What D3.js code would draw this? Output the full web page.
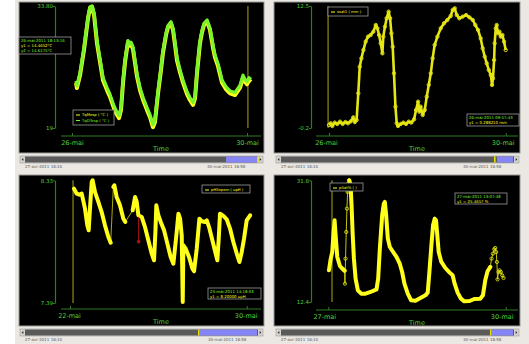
<!DOCTYPE html>
<html><head><meta charset="utf-8">
<script src="https://cdn.jsdelivr.net/npm/d3@7"></script>
<style>
html,body{margin:0;padding:0;background:#fff;}
svg{display:block;font-family:"DejaVu Sans",sans-serif;}
</style></head><body>
<svg id="c" width="529" height="344"></svg>
<script>
// ---------- DATA (hours after the first tick date) ----------
// Panel 1 : 26-mai .. 30-mai
const p1Ticks = ["2011-05-26", "2011-05-30"];
const p1YTicks = [19, 33.8];
const p1YLabels = ["19", "33.80"];
const p1Hours = [2.2,2.7,4.4,6.6,8.8,9.9,11.0,12.1,13.7,15.4,17.0,19.2,20.8,23.0,24.7,25.8,26.9,28.0,29.1,30.2,30.7,31.8,32.4,33.5,35.7,37.3,39.0,41.1,42.8,44.4,45.5,47.2,48.8,49.9,51.6,52.7,54.3,55.4,56.5,57.6,59.2,60.9,63.1,64.7,66.4,67.5,68.6,70.2,71.3,72.4,74.1,75.7,77.4,78.4,80.1,82.3,84.5,86.7,89.4,92.2,93.8,94.9,96.0,97.1,98.2];
const p1TqMesp = [24.46,23.85,25.4,28.5,32.3,33.56,33.7,32.7,29.3,27.0,24.8,23.6,22.8,21.4,20.6,20.2,21.2,24.5,27.0,28.7,29.4,29.0,29.2,28.5,25.2,23.6,22.4,21.2,20.3,19.1,19.7,23.2,26.0,28.1,30.3,31.25,31.7,30.9,29.1,27.2,25.8,24.5,23.1,22.4,21.8,22.6,25.7,29.3,30.6,31.5,31.9,30.9,28.7,27.6,26.5,24.5,23.7,23.2,23.0,23.9,25.1,24.6,24.3,24.8,24.6];
const p1TqDTesp = [24.7,24.1,25.7,28.8,32.5,33.7,33.8,32.9,29.6,27.3,25.1,23.9,23.1,21.7,20.9,20.5,21.5,24.8,27.3,28.9,29.6,29.2,29.4,28.8,25.5,23.9,22.7,21.5,20.6,19.4,20.0,23.5,26.3,28.4,30.5,31.45,31.9,31.1,29.4,27.5,26.1,24.8,23.4,22.7,22.1,22.9,26.0,29.5,30.8,31.7,32.1,31.1,29.0,27.9,26.8,24.8,24.0,23.5,23.3,24.2,25.4,24.9,24.6,25.1,24.9];
const p1Cursor = 96.5;
const p1Legend = ["TqMesp ( °C )", "TqDTesp ( °C )"];
const p1Info = ["26-mai-2011 18:13:16", "y1 = 14.4652°C", "y2 = 14.6175°C"];

// Panel 2 : 26-mai .. 30-mai
const p2Ticks = ["2011-05-26", "2011-05-30"];
const p2YTicks = [-0.2, 12.5];
const p2YLabels = ["-0.2", "12.5"];
const p2Hours = [0,0.9,1.8,3.1,4.5,6.0,7.4,8.9,10.3,11.8,13.2,14.0,15.0,15.9,16.7,17.6,18.7,19.9,21.2,22.6,24.1,25.4,26.3,27.2,28.1,29.0,29.5,30.4,31.3,32.4,33.2,33.9,34.6,35.3,36.1,36.8,37.5,39.0,40.4,41.8,43.3,44.7,46.2,47.3,48.4,49.1,49.8,50.9,52.0,53.1,54.2,55.3,56.3,57.4,58.9,60.7,62.5,64.3,66.1,67.2,68.3,69.4,70.8,72.6,74.5,76.3,78.1,79.5,81.0,82.4,83.5,84.6,85.7,86.8,87.9,88.6,89.1,89.7,90.0,90.6,91.1,91.8,92.6,93.3,94.2,95.1,96.0];
const p2Ssat = [0.11,0.29,0.01,0.36,0.22,0.46,0.22,0.42,0.29,0.49,0.91,0.42,0.63,3.41,6.18,7.05,7.92,8.79,9.31,9.48,9.83,10.52,10.18,9.48,8.61,7.57,9.31,10.35,11.22,11.91,11.22,9.65,8.27,5.49,2.02,0.29,0.01,0.22,0.36,0.22,0.46,0.36,0.7,1.67,2.54,1.5,2.02,1.15,1.67,3.06,4.28,5.49,7.05,8.44,9.31,10.18,10.7,11.04,11.46,12.08,12.26,11.56,11.22,11.39,11.56,11.32,11.04,10.52,10.0,9.13,8.09,7.23,6.53,5.84,5.32,4.28,4.97,6.88,8.61,10.18,10.52,9.65,9.83,9.31,9.48,8.79,7.92];
const p2Cursor = -0.5;
const p2Legend = ["ssat1 ( mm )"];
const p2Info = ["26-mai-2011 09:57:43", "y1 = 0.288210 mm"];

// Panel 3 : 22-mai .. 30-mai  (null = gap in the recording)
const p3Ticks = ["2011-05-22", "2011-05-30"];
const p3YTicks = [7.39, 8.33];
const p3YLabels = ["7.39", "8.33"];
const p3Hours = [4.3,7.2,10.1,12.7,16.3,18.8,20.3,21.7,23.6,24.6,27.2,30.8,34.4,38.0,41.7,44.2,45.6,47.1,48.2,50.7,54.3,58.0,60.1,64.0,68.1,70.7,72.5,74.3,77.9,81.5,85.1,88.8,91.3,92.8,93.8,96.0,98.6,102.2,105.8,109.4,112.3,115.2,117.8,119.6,121.4,122.5,123.2,125.7,129.3,133.0,134.8,137.7,140.6,143.1,146.7,148.6,151.1,154.7,158.3,160.1,161.6,163.0,166.7,170.3,173.9,177.5,181.2,184.1,186.6,189.1,192.0,195.7];
const p3PH = [8.266,8.228,8.22,8.228,8.113,7.985,7.947,8.113,8.317,8.33,8.24,8.164,8.087,7.985,7.896,7.852,null,8.279,8.292,8.202,8.138,8.036,8.011,null,8.10,8.202,8.164,8.062,8.049,7.972,7.87,7.768,7.717,7.934,8.138,8.062,8.011,7.947,7.845,7.742,7.691,7.883,8.074,8.036,7.908,7.398,7.832,7.806,7.742,7.653,7.633,7.806,8.036,8.016,8.011,8.023,7.972,7.87,7.768,7.717,7.883,8.074,8.057,8.031,7.96,7.857,7.768,7.704,7.781,7.883,8.023,8.062];
const p3MarkHours = [74.6, 74.6];
const p3MarkValues = [8.05, 7.86];
const p3Cursor = 3.3;
const p3Legend = ["pHSepsm ( upH )"];
const p3Info = ["23-mai-2011 14:18:03", "y1 = 8.20000 upH"];

// Panel 4 : 27-mai .. 30-mai
const p4Ticks = ["2011-05-27", "2011-05-30"];
const p4YTicks = [12.4, 31.8];
const p4YLabels = ["12.4", "31.8"];
const p4DenseHours = [0.27,0.94,1.6,2.16,2.56,2.97,3.64,4.72,5.67,6.61,7.5,8.5,9.04,9.45,9.85,10.39,11.07,12.01,13.36,15.11,17.14,19.57,20.24,20.92,21.86,22.54,22.94,23.48,24.16,24.97,26.32,27.67,29.01,29.96,30.9,32.25,33.6,35.36,37.38,39.4,40.35,41.03,41.84,42.51,43.18,43.72,44.13,44.8,45.88,47.5,49.26,50.47,51.28,52.5,53.85,55.2,57.36,59.24,61.67,62.75,63.7,64.64,65.72];
const p4DenseValues = [17.45,19.2,20.37,23.56,25.42,23.03,19.58,18.14,17.72,17.4,null,31.8,31.0,27.81,23.56,19.31,16.12,14.26,13.73,13.73,14.0,14.42,16.12,20.9,26.22,28.08,28.35,26.22,22.5,21.17,20.37,19.58,18.51,17.18,15.32,13.73,12.67,12.61,13.04,13.46,13.89,17.18,21.44,24.62,25.69,25.42,23.56,20.37,18.78,17.82,17.08,16.65,15.32,13.89,12.93,12.51,12.56,12.88,12.93,13.46,15.85,17.29,17.98];
const p4SparseHours = [6.61,6.75,7.0,7.29,7.56,7.83,8.1,8.5,30,65.72,66.26,66.8,67.34,67.75,68.15,68.42,68.69,69.1,69.5,70.04,70.58,71.12];
const p4SparseValues = [17.4,15.32,19.31,23.56,27.28,29.94,31.27,31.8,null,17.98,19.31,20.11,20.8,21.01,20.37,18.78,16.01,17.18,17.45,17.18,16.65,16.23];
const p4Cursor = 1.5;
const p4Legend = ["pSat% ( )"];
const p4Info = ["27-mai-2011 13:07:48", "y1 = 25.4657 %"];

const scrollLeftLabel = "27-avr-2011 18:10";
const scrollRightLabel = "30-mai-2011 18:58";

// ---------- DRAWING ----------
const fr = d3.timeFormatLocale({
  dateTime: "%A %e %B %Y à %X", date: "%d/%m/%Y", time: "%H:%M:%S", periods: ["AM","PM"],
  days: ["dimanche","lundi","mardi","mercredi","jeudi","vendredi","samedi"],
  shortDays: ["dim.","lun.","mar.","mer.","jeu.","ven.","sam."],
  months: ["janvier","février","mars","avril","mai","juin","juillet","août","septembre","octobre","novembre","décembre"],
  shortMonths: ["janv","févr","mars","avr","mai","juin","juil","août","sept","oct","nov","déc"]
});
const fmtTick = fr.format("%d-%b");
const parse = d3.timeParse("%Y-%m-%d");
const hoursToDate = (base, h) => new Date(+base + h * 3600e3);

const AX = "#2e7d24", TXT = "#4fd23a", GREEN = "#7cf42a", YEL = "#ffff1a", OLIVE = "#8c8c10";

const svg = d3.select("#c");
svg.append("rect").attr("x", 15).attr("y", 0).attr("width", 514).attr("height", 344).attr("fill", "#ebe8e3");

function drawPanel(c) {
  const g = svg.append("g");
  g.append("rect").attr("x", c.plot[0]).attr("y", c.plot[1]).attr("width", c.plot[2]).attr("height", c.plot[3])
    .attr("fill", "#000").attr("stroke", "#9a9a9a").attr("stroke-width", 1);
  const base = parse(c.ticks[0]);
  const end = parse(c.ticks[1]);
  const x = d3.scaleTime().domain([base, end]).range(c.xr);
  const y = d3.scaleLinear().domain(c.yTicks).range(c.yr);

  // cursor
  const cx = x(hoursToDate(base, c.cursor));
  g.append("line").attr("x1", cx).attr("x2", cx).attr("y1", c.yr[1]).attr("y2", c.yr[0])
    .attr("stroke", OLIVE).attr("stroke-width", 1.2);

  // x axis
  g.append("line").attr("x1", c.xLine[0]).attr("x2", c.xLine[1]).attr("y1", c.xAxisY).attr("y2", c.xAxisY)
    .attr("stroke", AX).attr("stroke-width", 1.2);
  const xa = d3.axisBottom(x).tickValues([base, end]).tickFormat(fmtTick).tickSizeInner(-3).tickSizeOuter(0).tickPadding(4);
  const gx = g.append("g").attr("transform", `translate(0,${c.xAxisY})`).call(xa);
  gx.select(".domain").remove();
  gx.selectAll(".tick line").attr("stroke", AX);
  gx.selectAll(".tick text").attr("fill", TXT).attr("font-size", 6.5).attr("dx", c.dx).attr("font-family", "DejaVu Sans");
  g.append("text").attr("x", (c.xLine[0] + c.xLine[1]) / 2).attr("y", c.xAxisY + 15).attr("text-anchor", "middle")
    .attr("fill", TXT).attr("font-size", 6.5).text("Time");

  // y axis
  const ya = d3.axisLeft(y).tickValues(c.yTicks).tickFormat((d, i) => c.yLabels[i]).tickSizeInner(2).tickSizeOuter(0).tickPadding(0);
  const gy = g.append("g").attr("transform", `translate(${c.yAxisX},0)`).call(ya);
  gy.select(".domain").attr("stroke", AX).attr("stroke-width", 1.2);
  gy.selectAll(".tick line").attr("stroke", AX);
  gy.selectAll(".tick text").attr("fill", TXT).attr("font-size", 5.5).attr("font-family", "DejaVu Sans");

  c.draw(g, x, y, base);

  // legend box
  const lg = g.append("g");
  lg.append("rect").attr("x", c.legend[0]).attr("y", c.legend[1]).attr("width", c.legend[2]).attr("height", c.legend[3])
    .attr("fill", "#000").attr("stroke", "#9a9a9a").attr("stroke-width", 0.8);
  c.legendText.forEach((t, i) => {
    const ly = c.legend[1] + 5 + i * 5.5;
    lg.append("line").attr("x1", c.legend[0] + 3).attr("x2", c.legend[0] + 7).attr("y1", ly).attr("y2", ly)
      .attr("stroke", c.legendColors[i]).attr("stroke-width", 1);
    lg.append("text").attr("x", c.legend[0] + 9).attr("y", ly + 1.2).attr("fill", c.legendColors[i])
      .attr("font-size", 3.8).text(t);
  });

  // info box
  const ib = g.append("g");
  ib.append("rect").attr("x", c.info[0]).attr("y", c.info[1]).attr("width", c.info[2]).attr("height", c.info[3])
    .attr("fill", "#000").attr("stroke", "#9a9a9a").attr("stroke-width", 0.8);
  c.infoText.forEach((t, i) => {
    ib.append("text").attr("x", c.info[0] + 2).attr("y", c.info[1] + 5 + i * 5).attr("fill", c.infoColors[i])
      .attr("font-size", 3.9).text(t);
  });

  // scrollbar
  const s = c.scroll, sy = s.y, sh = 7;
  g.append("rect").attr("x", s.x0).attr("y", sy).attr("width", s.x1 - s.x0).attr("height", sh).attr("fill", "#d6d3ce").attr("stroke", "#9a9a9a").attr("stroke-width", 0.6);
  g.append("rect").attr("x", s.x0 + 5).attr("y", sy + 0.5).attr("width", s.x1 - s.x0 - 10).attr("height", sh - 1).attr("fill", "#5a5a5a");
  g.append("rect").attr("x", s.blue[0]).attr("y", sy + 0.5).attr("width", s.blue[1] - s.blue[0]).attr("height", sh - 1).attr("fill", "#8585f5");
  g.append("rect").attr("x", s.mark).attr("y", sy + 0.5).attr("width", 1.6).attr("height", sh - 1).attr("fill", "#e8e000");
  g.append("path").attr("d", `M${s.x0 + 3.3},${sy + 2} L${s.x0 + 1.7},${sy + 3.5} L${s.x0 + 3.3},${sy + 5} Z`).attr("fill", "#222");
  g.append("path").attr("d", `M${s.x1 - 3.3},${sy + 2} L${s.x1 - 1.7},${sy + 3.5} L${s.x1 - 3.3},${sy + 5} Z`).attr("fill", "#222");
  g.append("text").attr("x", s.x0 + 5).attr("y", sy + 12).attr("fill", "#555").attr("font-size", 4).text(scrollLeftLabel);
  g.append("text").attr("x", s.rightLabel).attr("y", sy + 12).attr("fill", "#555").attr("font-size", 4).text(scrollRightLabel);
}

const toPts = (base, hs, vs) => hs.map((h, i) => ({ t: hoursToDate(base, h), v: vs[i] }));

// Panel 1
drawPanel({
  plot: [19, 2, 245, 151], ticks: p1Ticks, xr: [72, 247], yTicks: p1YTicks, yLabels: p1YLabels, yr: [128, 6],
  yAxisX: 55, xAxisY: 136, xLine: [61, 261], dx: 0, cursor: p1Cursor,
  legend: [73, 110, 41, 15], legendText: p1Legend, legendColors: [YEL, GREEN],
  info: [19, 37, 52, 17], infoText: p1Info, infoColors: [GREEN, YEL, GREEN],
  scroll: { x0: 20, x1: 263, y: 156, blue: [226, 257], mark: 257, rightLabel: 207 },
  draw: (g, x, y, base) => {
    const line = d3.line().x(d => x(d.t)).y(d => y(d.v)).curve(d3.curveLinear);
    g.append("path").datum(toPts(base, p1Hours, p1TqMesp)).attr("d", line).attr("fill", "none")
      .attr("stroke", YEL).attr("stroke-width", 4).attr("stroke-linejoin", "round");
    g.append("path").datum(toPts(base, p1Hours, p1TqDTesp)).attr("d", line).attr("fill", "none")
      .attr("stroke", GREEN).attr("stroke-width", 3.2).attr("stroke-linejoin", "round");
  }
});

// Panel 2
drawPanel({
  plot: [274, 2, 246, 151], ticks: p2Ticks, xr: [329, 505.7], yTicks: p2YTicks, yLabels: p2YLabels, yr: [128, 6],
  yAxisX: 311, xAxisY: 136, xLine: [316, 518], dx: -3, cursor: p2Cursor,
  legend: [328, 7, 40, 9], legendText: p2Legend, legendColors: [YEL],
  info: [467, 114, 52, 12], infoText: p2Info, infoColors: [GREEN, YEL],
  scroll: { x0: 276, x1: 519, y: 156, blue: [497, 513], mark: 494, rightLabel: 463 },
  draw: (g, x, y, base) => {
    const pts = toPts(base, p2Hours, p2Ssat);
    const line = d3.line().x(d => x(d.t)).y(d => y(d.v));
    g.append("path").datum(pts).attr("d", line).attr("fill", "none")
      .attr("stroke", "#e6e614").attr("stroke-width", 2.6).attr("stroke-linejoin", "round");
    g.selectAll(".m2").data(pts).enter().append("circle").attr("cx", d => x(d.t)).attr("cy", d => y(d.v))
      .attr("r", 1.7).attr("fill", "none").attr("stroke", "#e6e614").attr("stroke-width", 0.9);
  }
});

// Panel 3
drawPanel({
  plot: [19, 175, 245, 151], ticks: p3Ticks, xr: [70, 246.7], yTicks: p3YTicks, yLabels: p3YLabels, yr: [303, 180.3],
  yAxisX: 55, xAxisY: 309, xLine: [61, 261], dx: -1, cursor: p3Cursor,
  legend: [202, 185, 48, 8], legendText: p3Legend, legendColors: [YEL],
  info: [208, 288, 53, 11], infoText: p3Info, infoColors: [GREEN, YEL],
  scroll: { x0: 20, x1: 263, y: 329, blue: [200, 257], mark: 198, rightLabel: 208 },
  draw: (g, x, y, base) => {
    const pts = toPts(base, p3Hours, p3PH);
    const thin = d3.line().x(d => x(d.t)).y(d => y(d.v));
    g.append("path").datum(pts.filter(d => d.v != null)).attr("d", thin).attr("fill", "none")
      .attr("stroke", "#d4d40c").attr("stroke-width", 0.8);
    const thick = d3.line().defined(d => d.v != null).x(d => x(d.t)).y(d => y(d.v));
    g.append("path").datum(pts).attr("d", thick).attr("fill", "none")
      .attr("stroke", YEL).attr("stroke-width", 4).attr("stroke-linejoin", "round").attr("stroke-linecap", "round");
    const mk = toPts(base, p3MarkHours, p3MarkValues);
    g.append("path").datum(mk).attr("d", thin).attr("fill", "none").attr("stroke", "#b01010").attr("stroke-width", 1);
    g.append("circle").attr("cx", x(mk[1].t)).attr("cy", y(mk[1].v)).attr("r", 1.8).attr("fill", "#b01010");
  }
});

// Panel 4
drawPanel({
  plot: [274, 175, 246, 151], ticks: p4Ticks, xr: [328.3, 505.7], yTicks: p4YTicks, yLabels: p4YLabels, yr: [302, 180.3],
  yAxisX: 311, xAxisY: 310, xLine: [316, 518], dx: -4, cursor: p4Cursor,
  legend: [330, 183, 33, 8], legendText: p4Legend, legendColors: [YEL],
  info: [455, 193, 52, 11], infoText: p4Info, infoColors: [GREEN, YEL],
  scroll: { x0: 276, x1: 519, y: 329, blue: [492, 513], mark: 490, rightLabel: 463 },
  draw: (g, x, y, base) => {
    const dense = toPts(base, p4DenseHours, p4DenseValues);
    const sparse = toPts(base, p4SparseHours, p4SparseValues);
    const line = d3.line().defined(d => d.v != null).x(d => x(d.t)).y(d => y(d.v));
    g.append("path").datum(sparse).attr("d", line).attr("fill", "none").attr("stroke", "#d8d810").attr("stroke-width", 0.9);
    g.selectAll(".m4").data(sparse.filter(d => d.v != null)).enter().append("circle")
      .attr("cx", d => x(d.t)).attr("cy", d => y(d.v)).attr("r", 1.6)
      .attr("fill", "none").attr("stroke", "#e0e010").attr("stroke-width", 0.9);
    g.append("path").datum(dense).attr("d", line).attr("fill", "none")
      .attr("stroke", YEL).attr("stroke-width", 4).attr("stroke-linejoin", "round").attr("stroke-linecap", "round");
  }
});
</script>
</body></html>
